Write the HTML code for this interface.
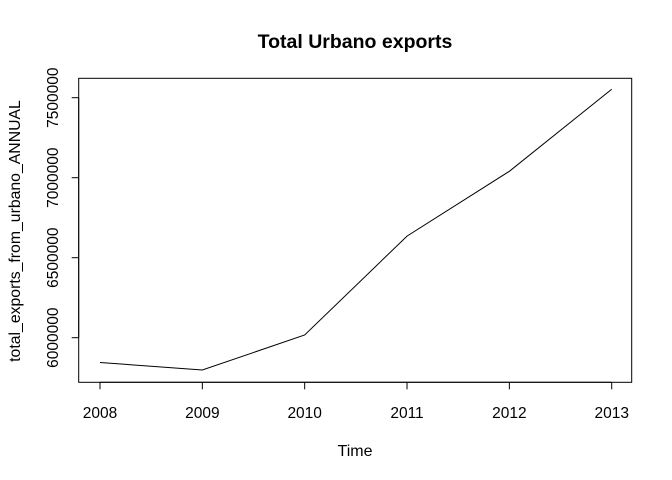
<!DOCTYPE html>
<html><head><meta charset="utf-8"><style>body{margin:0;background:#fff}svg{display:block;font-family:"Liberation Sans",Arial,sans-serif}</style></head>
<body>
<svg id="chart" width="672" height="480"></svg>
<script>
const years = [2008, 2009, 2010, 2011, 2012, 2013];
const values = [5845000, 5798000, 6017000, 6635000, 7040000, 7553000];
const yTicks = [6000000, 6500000, 7000000, 7500000];
const xTicks = [2008, 2009, 2010, 2011, 2012, 2013];

const NS = "http://www.w3.org/2000/svg";
const svg = document.getElementById("chart");
const L = 78.7, R = 631.7, T = 78.3, B = 382.3;
const xs = v => 100 + (v - 2008) * (611.7 - 100) / 5;
const ys = v => 337.7 - (v - 6000000) * 160 / 1000000;
function mk(tag, attrs, text) {
  const e = document.createElementNS(NS, tag);
  for (const k in attrs) e.setAttribute(k, attrs[k]);
  if (text !== undefined) e.textContent = text;
  svg.appendChild(e);
  return e;
}
let e;
e = mk("text", {x: 355, y: 48, "text-anchor": "middle", "font-size": 19.5, "font-weight": "bold"}, "Total Urbano exports");


e = mk("rect", {x: L, y: T, width: R - L, height: B - T, fill: "none", stroke: "#000", "stroke-width": 1});


e = mk("polyline", {points: years.map((y, i) => xs(y) + "," + ys(values[i])).join(" "), fill: "none", stroke: "#000", "stroke-width": 1});


e = mk("line", {x1: xs(xTicks[0]), x2: xs(xTicks[xTicks.length - 1]), y1: B, y2: B, stroke: "#000"});


xTicks.forEach(t => {
  const x = xs(t);
  let l = mk("line", {x1: x, x2: x, y1: B, y2: B + 7, stroke: "#000"});
  
  
  let tx = mk("text", {x: x, y: 418, "text-anchor": "middle", "font-size": 15.5}, String(t));
  
  
});
e = mk("line", {x1: L, x2: L, y1: ys(yTicks[0]), y2: ys(yTicks[yTicks.length - 1]), stroke: "#000"});


yTicks.forEach(t => {
  const y = ys(t);
  let l = mk("line", {x1: L - 7, x2: L, y1: y, y2: y, stroke: "#000"});
  
  
  let tx = mk("text", {x: 58, y: y, "text-anchor": "middle", "font-size": 15.5, transform: "rotate(-90 58 " + y + ")"}, String(t));
  
  
});
e = mk("text", {x: 355, y: 456, "text-anchor": "middle", "font-size": 16}, "Time");


e = mk("text", {x: 20, y: 231, "text-anchor": "middle", "font-size": 15.8, transform: "rotate(-90 20 231)"}, "total_exports_from_urbano_ANNUAL");


</script>
</body></html>
